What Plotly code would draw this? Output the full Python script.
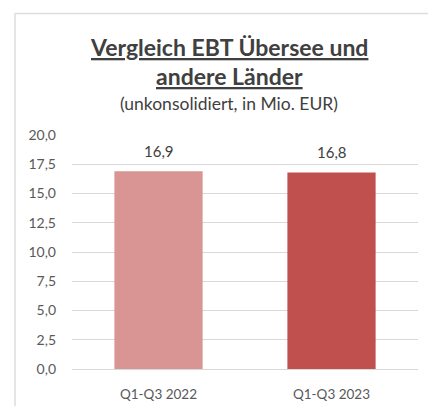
import plotly.graph_objects as go

categories = ["Q1-Q3 2022", "Q1-Q3 2023"]
values = [16.9, 16.8]
bar_colors = ["#D99594", "#C0504D"]
y_ticks = [0, 2.5, 5, 7.5, 10, 12.5, 15, 17.5, 20]

W, H = 428, 412
L, R, T, B = 72, 10, 135, 38
pw, ph = W - L - R, H - T - B


def px_x(x):
    return (x - L) / pw


def px_y(y):
    return (H - B - y) / ph


font = "Lato, Carlito, Calibri, sans-serif"

fig = go.Figure(go.Bar(
    x=categories, y=values,
    marker=dict(color=bar_colors, line_width=0),
    hoverinfo="skip",
))

# data labels above the bars
for cat, v in zip(categories, values):
    fig.add_annotation(x=cat, y=v, text=f"{v:.1f}".replace(".", ","),
                       yanchor="bottom", yshift=9, showarrow=False,
                       font=dict(size=15, color="#404040"))

fig.update_layout(
    width=W, height=H,
    margin=dict(l=L, r=R, t=T, b=B),
    paper_bgcolor="white", plot_bgcolor="white",
    separators=",.",
    bargap=0.49,
    showlegend=False,
    font=dict(family=font, color="#595959", size=13),
)
fig.update_yaxes(range=[0, 20], tickvals=y_ticks, tickformat=".1f",
                 gridcolor="#D9D9D9", gridwidth=1, zeroline=False,
                 showline=False, ticklabelstandoff=15,
                 tickfont=dict(size=14, color="#595959"))
fig.update_xaxes(showgrid=False, showline=True, linecolor="#D9D9D9",
                 ticks="", ticklabelstandoff=13,
                 tickfont=dict(size=13.5, color="#595959"))

# chart frame: only top and left border fall inside the picture
fig.add_shape(type="line", xref="paper", yref="paper",
              x0=px_x(15), x1=px_x(428), y0=px_y(11), y1=px_y(11),
              line=dict(color="#DDDDDD", width=1.5), layer="below")
fig.add_shape(type="line", xref="paper", yref="paper",
              x0=px_x(15), x1=px_x(15), y0=px_y(11), y1=px_y(412),
              line=dict(color="#DDDDDD", width=1.5), layer="below")

fig.add_annotation(text="<b><u>Vergleich EBT Übersee und</u></b>",
                   xref="paper", yref="paper", x=px_x(229), y=px_y(45),
                   yanchor="middle", showarrow=False,
                   font=dict(size=23, color="#404040"))
fig.add_annotation(text="<b><u>andere Länder</u></b>",
                   xref="paper", yref="paper", x=px_x(229), y=px_y(75),
                   yanchor="middle", showarrow=False,
                   font=dict(size=23, color="#404040"))
fig.add_annotation(text="(unkonsolidiert, in Mio. EUR)",
                   xref="paper", yref="paper", x=px_x(229), y=px_y(103),
                   yanchor="middle", showarrow=False,
                   font=dict(size=17.5, color="#404040"))

fig.write_html("out.html", config={"displayModeBar": False},
               post_script="document.body.style.margin='0';"
                           "document.body.style.overflow='hidden';"
                           "document.documentElement.style.overflow='hidden';")
